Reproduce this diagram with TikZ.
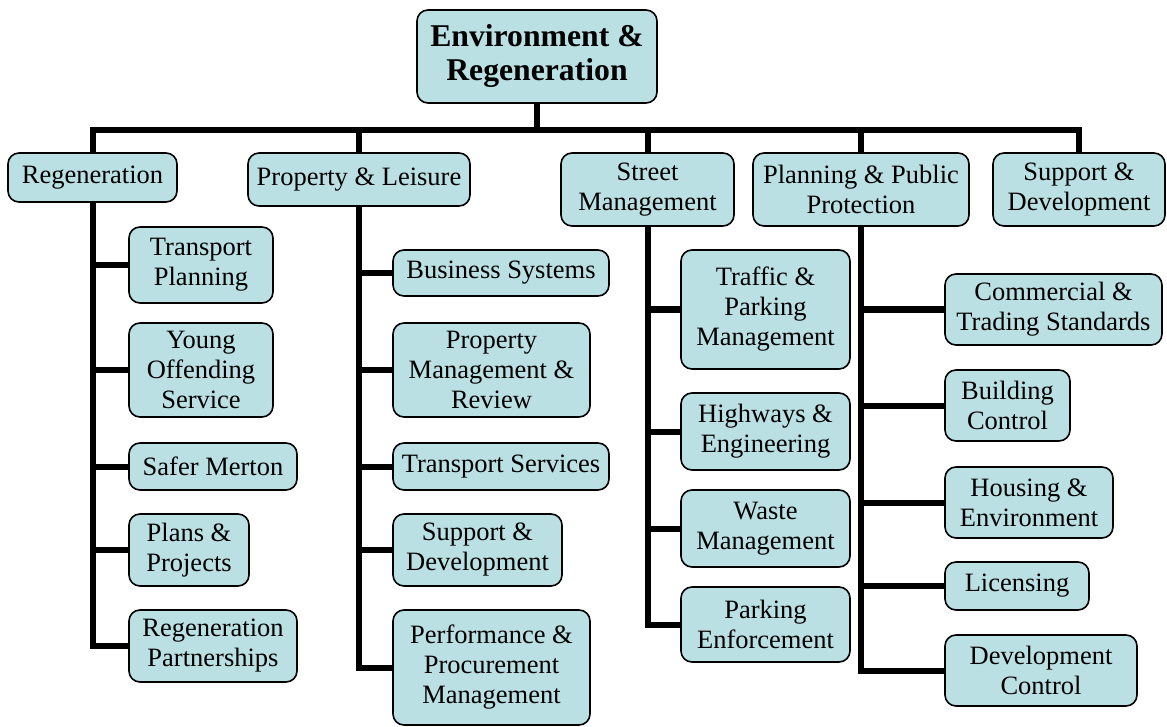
\documentclass[tikz,border=0pt]{standalone}
\usepackage{fontspec}
\setmainfont{Liberation Serif}
\usetikzlibrary{backgrounds}
\definecolor{boxfill}{RGB}{187,224,227}
\tikzset{
  orgbox/.style={draw=black, line width=1.6pt, fill=boxfill, rounded corners=11pt,
    inner sep=0pt, align=center, font=\fontsize{26.5}{30}\selectfont},
  headbox/.style={orgbox, font=\fontsize{31.7}{34}\selectfont\bfseries},
  link/.style={draw=black, line width=6pt, line join=miter, line cap=butt}
}
% \obox[style]{name}{left}{top}{right}{bottom}{text}
\newcommand\obox[7][orgbox]{%
  \node[#1, minimum width={(#5-#3)*1pt}, minimum height={(#6-#4)*1pt}]
    (#2) at ({(#3+#5)/2},{(#4+#6)/2}) {#7};}
\begin{document}
\begin{tikzpicture}[x=1pt,y=-1pt]
\useasboundingbox (0,0) rectangle (1167,727);

% head and directorates
\obox[headbox]{top}{417}{10}{657}{103}{Environment \&\\Regeneration}
\obox{reg}{8}{153}{177}{202}{Regeneration}
\obox{pl}{248}{153}{470}{206}{Property \& Leisure}
\obox{sm}{561}{153}{734}{226}{Street\\Management}
\obox{ppp}{753}{153}{969}{226}{Planning \& Public\\Protection}
\obox{sd}{993}{153}{1165}{226}{Support \&\\Development}

% Regeneration
\obox{tp}{129}{227}{273}{303}{Transport\\Planning}
\obox{yos}{129}{323}{273}{417}{Young\\Offending\\Service}
\obox{smer}{129}{443}{297}{490}{Safer Merton}
\obox{pp}{129}{514}{249}{586}{Plans \&\\Projects}
\obox{rp}{129}{610}{297}{682}{Regeneration\\Partnerships}

% Property & Leisure
\obox{bs}{393}{250}{609}{296}{Business Systems}
\obox{pmr}{393}{323}{590}{417}{Property\\Management \&\\Review}
\obox{ts}{393}{443}{609}{490}{Transport Services}
\obox{sdv}{393}{514}{562}{586}{Support \&\\Development}
\obox{ppm}{393}{610}{590}{725}{Performance \&\\Procurement\\Management}

% Street Management
\obox{tpm}{681}{250}{850}{369}{Traffic \&\\Parking\\Management}
\obox{he}{681}{393}{850}{470}{Highways \&\\Engineering}
\obox{wm}{681}{490}{850}{567}{Waste\\Management}
\obox{pe}{681}{587}{850}{662}{Parking\\Enforcement}

% Planning & Public Protection
\obox{cts}{945}{274}{1162}{345}{Commercial \&\\Trading Standards}
\obox{bc}{945}{370}{1070}{441}{Building\\Control}
\obox{hen}{945}{467}{1113}{538}{Housing \&\\Environment}
\obox{lic}{945}{562}{1089}{610}{Licensing}
\obox{dc}{945}{635}{1137}{706}{Development\\Control}

\coordinate (bar) at (0,130);

\begin{scope}[on background layer]
  % top-level bar
  \draw[link] (top.south) -- (top.south |- bar);
  \draw[link] (reg.north) -- (reg.north |- bar) -- (sd.north |- bar) -- (sd.north);
  \draw[link] (pl.north) -- (pl.north |- bar);
  \draw[link] (sm.north) -- (sm.north |- bar);
  \draw[link] (ppp.north) -- (ppp.north |- bar);

  % Regeneration spine
  \draw[link] (reg.south) |- (rp.west);
  \foreach \c in {tp,yos,smer,pp} \draw[link] (reg.south |- \c.west) -- (\c.west);

  % Property & Leisure spine
  \draw[link] (pl.south) |- (ppm.west);
  \foreach \c in {bs,pmr,ts,sdv} \draw[link] (pl.south |- \c.west) -- (\c.west);

  % Street Management spine
  \draw[link] (sm.south) |- (pe.west);
  \foreach \c in {tpm,he,wm} \draw[link] (sm.south |- \c.west) -- (\c.west);

  % Planning & Public Protection spine
  \draw[link] (ppp.south) |- (dc.west);
  \foreach \c in {cts,bc,hen,lic} \draw[link] (ppp.south |- \c.west) -- (\c.west);
\end{scope}
\end{tikzpicture}
\end{document}
